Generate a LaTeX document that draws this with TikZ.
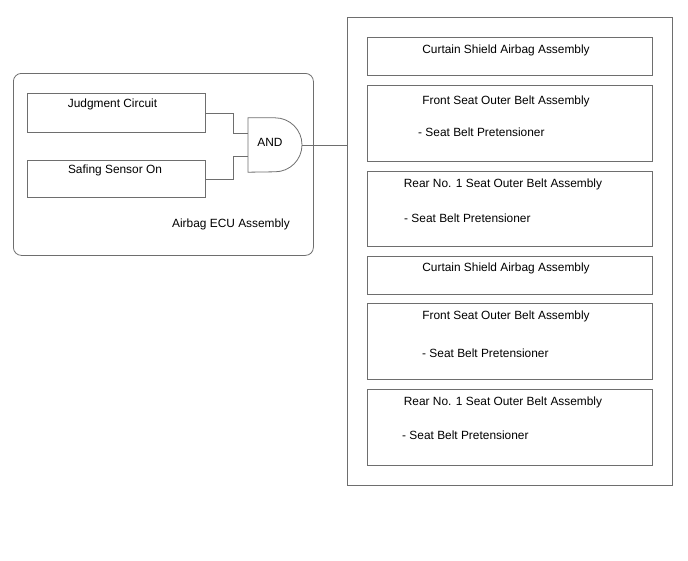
\documentclass[tikz,border=0pt]{standalone}
\usepackage{fontspec}
\setmainfont{Liberation Sans}
\definecolor{lin}{RGB}{110,110,110}
\begin{document}
\begin{tikzpicture}[x=1pt,y=-1pt,
  box/.style={draw=lin,line width=0.8pt,rectangle,inner sep=0pt,anchor=north west},
  wire/.style={draw=lin,line width=0.8pt},
  lbl/.style={font=\fontsize{11.9pt}{13pt}\selectfont,inner sep=0pt,anchor=base},
  lbll/.style={lbl,anchor=base west}]
\useasboundingbox (0,0) rectangle (688,560);
% left assembly
\node[box,rounded corners=8pt,minimum width=300pt,minimum height=182pt] (ecu) at (13,73) {};
\node[box,minimum width=178pt,minimum height=39pt] (jc) at (27,93) {};
\node[box,minimum width=178pt,minimum height=37pt] (ss) at (27,160) {};
\node[lbl] (jct) at (112.5,107) {Judgment Circuit};
\node[lbl] (sst) at (115,173) {Safing Sensor On};
\node[lbl] (ecut) at (231,227) {Airbag ECU Assembly};
% AND gate
\node[minimum width=54pt,minimum height=54pt,inner sep=0pt,anchor=west] (gate) at (248,145) {};
\draw[wire] (gate.north west) -- ++(27,0) arc (-90:90:27) -- (gate.south west) -- cycle;
\node[lbl] (andt) at (270,146) {AND};
% right assembly
\node[box,minimum width=325pt,minimum height=468pt] (rbox) at (347,17) {};
\node[box,minimum width=285pt,minimum height=38pt] (b1) at (367,37) {};
\node[box,minimum width=285pt,minimum height=76pt] (b2) at (367,85) {};
\node[box,minimum width=285pt,minimum height=75pt] (b3) at (367,171) {};
\node[box,minimum width=285pt,minimum height=38pt] (b4) at (367,256) {};
\node[box,minimum width=285pt,minimum height=76pt] (b5) at (367,303) {};
\node[box,minimum width=285pt,minimum height=76pt] (b6) at (367,389) {};
\node[lbl] (t1) at (506,53.3) {Curtain Shield Airbag Assembly};
\node[lbl] (t2) at (506,104.3) {Front Seat Outer Belt Assembly};
\node[lbll] (t2b) at (418,136.3) {- Seat Belt Pretensioner};
\node[lbl] (t3) at (503,187.3) {Rear No. 1 Seat Outer Belt Assembly};
\node[lbll] (t3b) at (404,222.3) {- Seat Belt Pretensioner};
\node[lbl] (t4) at (506,271.3) {Curtain Shield Airbag Assembly};
\node[lbl] (t5) at (506,319.3) {Front Seat Outer Belt Assembly};
\node[lbll] (t5b) at (422,357.3) {- Seat Belt Pretensioner};
\node[lbl] (t6) at (503,405.3) {Rear No. 1 Seat Outer Belt Assembly};
\node[lbll] (t6b) at (402,439.3) {- Seat Belt Pretensioner};
% wires
\draw[wire] (jc.east) -- ++(28,0) |- ([yshift=11.5pt]gate.west);
\draw[wire] (ss.east) -- ++(28,0) |- ([yshift=-11.5pt]gate.west);
\draw[wire] (gate.east) -- (gate.east -| rbox.west);
\end{tikzpicture}
\end{document}
